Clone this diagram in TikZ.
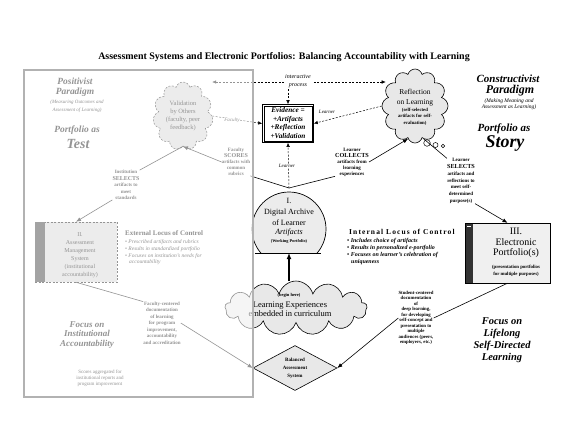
\documentclass[tikz,border=0pt]{standalone}
\usepackage{fontspec}
\setmainfont{Liberation Serif}[ItalicFont={Liberation Serif Italic}, BoldFont={Liberation Serif Bold}, BoldItalicFont={Liberation Serif Bold Italic}]
\usetikzlibrary{shapes.geometric,shapes.symbols,arrows.meta,calc}
\newcommand\myfs[2]{\fontsize{#1}{#2}\selectfont}
\begin{document}
\begin{tikzpicture}[x=1bp,y=-1bp,
  txt/.style={inner sep=0pt, align=center},
  conn/.style={line width=0.6bp},
  arr/.style={-{Latex[length=5bp,width=4bp]}},
  arrs/.style={-{Latex[length=4bp,width=3.5bp]}},
  dsh/.style={dash pattern=on 2bp off 1.5bp, line width=0.5bp},
  tagl/.style={font=\itshape\myfs{5}{5}, fill=white, inner sep=0.6bp},
  cloudbox/.style={cloud, cloud ignores aspect, draw, fill=gray!18, line width=0.6bp, inner sep=0pt}]
\useasboundingbox (0,0) rectangle (568,424);
\fill[white] (0,0) rectangle (568,424);

% ---------------- title
\node[txt, font=\bfseries\myfs{10}{11}] (title) at (284,57) {Assessment Systems and Electronic Portfolios: Balancing Accountability with Learning};

% ---------------- right side: paradigm texts
\node[txt, font=\bfseries\itshape\myfs{11}{12}] (cons) at (508,79) {Constructivist};
\node[txt, font=\bfseries\itshape\myfs{12}{12}] (para) at (510,91) {Paradigm};
\node[txt, font=\itshape\myfs{5.5}{6}] (mak) at (509,104) {(Making Meaning and\\Assessment as Learning)};
\node[txt, font=\bfseries\itshape\myfs{11}{12}] (pas) at (504,129) {Portfolio as};
\node[txt, font=\bfseries\itshape\myfs{18}{18}] (story) at (505,143) {Story};

% ---------------- reflection cloud
\node[cloudbox, cloud puffs=12, minimum width=66bp, minimum height=74bp] (refl) at (415,106) {};
\node[txt, font=\myfs{7.5}{10}] (reflt) at (415,98) {Reflection\\on Learning};
\node[txt, font=\bfseries\myfs{4.8}{6.5}] (refls) at (415,116.5) {(self-selected\\artifacts for self-\\evaluation)};
\node[circle, draw, fill=white, minimum size=6.6bp, inner sep=0, line width=0.5bp] (b1) at (427,143) {};
\node[circle, draw, fill=white, minimum size=5bp, inner sep=0, line width=0.5bp] (b2) at (435.5,145) {};
\node[circle, draw, fill=white, minimum size=3.6bp, inner sep=0, line width=0.5bp] (b3) at (443,146) {};

% ---------------- left cloud (faded later)
\node[cloudbox, cloud puffs=11, dsh, fill=gray!35, minimum width=60bp, minimum height=68bp] (lcl) at (183,116) {};
\node[txt, font=\myfs{6.5}{8.3}] (lclt) at (183,116) {Validation\\by Others\\(faculty, peer\\feedback)};

% ---------------- evidence box (double frame)
\node[draw, line width=0.6bp, fill=white, minimum width=51bp, minimum height=38bp, inner sep=0] (evid) at (288,123.5) {};
\draw[line width=0.5bp] ($(evid.north west)+(1.8,1.8)$) rectangle ($(evid.south east)+(-1.8,-1.8)$);
\node[txt, font=\bfseries\itshape\myfs{7.3}{8.5}] (evidt) at (288,123) {Evidence =\\+Artifacts\\+Reflection\\+Validation};

% ---------------- archive
\coordinate (archtop) at (289,188);
\coordinate (archb) at (289,253);
\node[circle, minimum size=74bp, inner sep=0] (arch) at (289,229) {};
\begin{scope}
  \clip (240,180) rectangle (340,253);
  \draw[fill=gray!15, line width=0.7bp] (arch.center) circle (37);
\end{scope}
\draw[line width=0.7bp] (255,253) -- (321,253);
\node[txt, font=\myfs{8}{10.8}] (archt) at (289,212) {I.\\Digital Archive\\of Learner};
\node[txt, font=\itshape\myfs{8}{8}] (archa) at (289,233) {Artifacts};
\node[txt, font=\bfseries\myfs{4.3}{5}] (archw) at (289,241) {(Working Portfolio)};

% ---------------- learning experiences cloud
\node[cloudbox, cloud puffs=13, minimum width=142bp, minimum height=54bp] (lec) at (296,308) {};
\node[txt, font=\bfseries\myfs{4.5}{5}] (begin) at (289,295) {(begin here)};
\node[txt, font=\myfs{8.5}{8.5}] (lect) at (290,309) {Learning Experiences\\embedded in curriculum};
\draw[line width=1.2bp, -{Latex[length=6bp,width=5bp]}] (lec.north -| archb) -- (archb);

% ---------------- diamond
\node[diamond, draw, fill=gray!18, minimum width=84bp, minimum height=45bp, inner sep=0, line width=0.6bp] (dia) at (295,368) {};
\node[txt, font=\bfseries\myfs{5}{8}] (diat) at (295,368) {Balanced\\Assessment\\System};

% ---------------- III box
\node[draw, fill=gray!12, minimum width=85bp, minimum height=60bp, inner sep=0, line width=0.4bp] (e3) at (507.5,253) {};
\fill[gray!40!black] (e3.north west) rectangle ($(e3.south west)+(8,0)$);
\draw[white, line width=0.6bp] (467,226) -- (471,226);
\draw[line width=0.4bp] (e3.north west) rectangle (e3.south east);
\node[txt, font=\myfs{10}{10.5}] (e3t) at (516,243) {III.\\Electronic\\Portfolio(s)};
\node[txt, font=\bfseries\myfs{4.8}{7}] (e3s) at (516,270.5) {(presentation portfolios\\for multiple purposes)};

% ---------------- connector texts
\node[txt, font=\bfseries\myfs{5}{6}] (col) at (352,162) {Learner\\{\myfs{6.2}{6}COLLECTS}\\artifacts from\\learning\\experiences};
\node[txt, font=\bfseries\myfs{5}{6.8}] (sel) at (461,181) {Learner\\{\myfs{6.2}{6.8}SELECTS}\\artifacts and\\reflections to\\meet self-\\determined\\purpose(s)};
\node[txt, font=\bfseries\myfs{4.8}{5.5}] (stu) at (416,318) {Student-centered\\documentation\\of\\deep learning,\\for developing\\self-concept and\\presentation to\\multiple\\audiences (peers,\\employers, etc.)};

% ---------------- internal locus
\node[anchor=west, inner sep=0, font=\bfseries\myfs{7.5}{8}\addfontfeature{LetterSpace=15}] (iloc) at (349,232) {Internal Locus of Control};
\node[anchor=north west, inner sep=0, align=left, font=\bfseries\itshape\myfs{6}{7}] (ibul) at (347,238.5) {• Includes choice of artifacts\\• Results in personalized e-portfolio\\• Focuses on learner's celebration of\\\hspace*{4bp}uniqueness};

% ---------------- focus
\node[txt, font=\bfseries\itshape\myfs{10.5}{12}] (foc) at (502,340) {Focus on\\Lifelong\\Self-Directed\\Learning};

% ---------------- right connectors
\coordinate (ip) at (288,82);
\draw[dsh, {Latex[length=4bp,width=3.5bp]}-{Latex[length=4bp,width=3.5bp]}] (lcl.east |- ip) -- ($(refl.west |- ip)+(4,0)$);
\draw[dsh, arrs] (ip) -- (evid.north);
\node[txt, font=\itshape\myfs{6}{8}, fill=white, inner sep=1bp] (inter) at (298,81) {interactive\\process};
\draw[dsh, arrs] (refl.west) -- (evid.east);
\node[tagl] (rtag) at (327,112) {Learner};
\draw[dsh, arrs] (lcl.east) -- (evid.west);
\node[tagl] (ltag) at (232,120.5) {Faculty};
\draw[dsh, arrs] (archtop) -- (evid.south);
\node[tagl] (atag) at (287,166) {Learner};
\draw[conn] (archtop) -- (col.south west);
\draw[conn, arr] (col.east) -- (refl.258);
\draw[conn] (refl.285) -- (sel.north west);
\draw[conn, arr] (sel.south east) -- (e3.north);
\draw[conn] (e3.south) -- (stu.east);
\draw[conn, arr] (stu.west) -- (dia.east);

% ---------------- left (faded) side
\node[txt, font=\bfseries\itshape\myfs{9.5}{10}] (lpar) at (75,87) {Positivist\\Paradigm};
\node[txt, font=\itshape\myfs{5}{8}] (lpars) at (77,106) {(Measuring Outcomes and\\Assessment of Learning)};
\node[txt, font=\bfseries\itshape\myfs{9.5}{10}] (lpt) at (77,130) {Portfolio as};
\node[txt, font=\bfseries\itshape\myfs{14}{14}] (ltest) at (78,144) {Test};
\node[txt, font=\bfseries\myfs{5}{6}] (lcol) at (236,162) {Faculty\\{\myfs{6}{6}SCORES}\\artifacts with\\common\\rubrics};
\node[txt, font=\bfseries\myfs{5}{6.5}] (lsel) at (126,185) {Institution\\{\myfs{6}{6.5}SELECTS}\\artifacts to\\meet\\standards};
\node[draw, dsh, fill=gray!35, minimum width=82bp, minimum height=60bp, inner sep=0] (lbox) at (76,252) {};
\fill[black!85] (lbox.north west) rectangle ($(lbox.south west)+(10,0)$);
\node[txt, font=\myfs{6}{8}] (lboxt) at (80,255) {II.\\Assessment\\Management\\System\\(institutional\\accountability)};
\node[anchor=west, inner sep=0, font=\bfseries\myfs{7}{8}] (lext) at (125,233) {External Locus of Control};
\node[anchor=north west, inner sep=0, align=left, font=\itshape\myfs{5.5}{7}] (lbul) at (125,239) {• Prescribed artifacts and rubrics\\• Results in standardized portfolio\\• Focuses on institution's needs for\\\hspace*{4bp}accountability};
\node[txt, font=\bfseries\myfs{5}{6.5}] (lstu) at (162,323) {Faculty-centered\\documentation\\of learning\\for program\\improvement,\\accountability\\and accreditation};
\node[txt, font=\bfseries\itshape\myfs{9}{10}] (lfoc) at (87,335) {Focus on\\Institutional\\Accountability};
\node[txt, font=\myfs{5}{5.8}] (lbot) at (100,378) {Scores aggregated for\\institutional reports and\\program improvement};
\draw[conn] (lcol.south east) -- (archtop);
\draw[conn, arr] (lcol.west) -- (lcl.south);
\draw[conn] (lcl.south) -- (lsel.north east);
\draw[conn, arr] (lsel.south west) -- (lbox.north);
\draw[conn] (lbox.south) -- (lstu.north west);
\draw[conn, arr] (lstu.east) -- (dia.west);

% ---------------- fading overlay and panel border
\fill[white, fill opacity=0.58] (24,70) rectangle (253,397);
\draw[gray!60, line width=2.2bp] (24,70) rectangle (253,397);
\end{tikzpicture}
\end{document}
